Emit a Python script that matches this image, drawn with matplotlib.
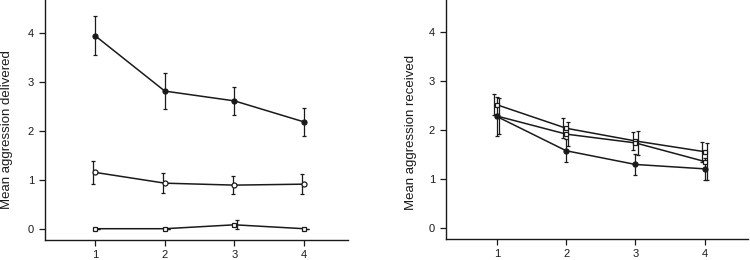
"""Mean aggression delivered / received across sessions."""

import matplotlib
matplotlib.use("Agg")
import matplotlib.pyplot as plt
import numpy as np

plt.rcParams.update({
    "font.family": ["Liberation Sans", "DejaVu Sans"],
    "font.size": 8,
    "axes.spines.top": False,
    "axes.spines.right": False,
})

SESSIONS = [1, 2, 3, 4]
INK = "#1a1a1a"

# left panel: aggression delivered
DELIV_FILLED = [3.94, 2.81, 2.61, 2.18]
DELIV_FILLED_ERR = [0.40, 0.37, 0.29, 0.28]
DELIV_CIRCLE = [1.15, 0.93, 0.89, 0.91]
DELIV_CIRCLE_ERR = [0.24, 0.21, 0.18, 0.21]
DELIV_SQUARE = [0.0, 0.0, 0.08, 0.0]
DELIV_SQUARE_ERR = [0.0, 0.0, 0.09, 0.0]

# right panel: aggression received
RECV_SQUARE = [2.51, 2.03, 1.77, 1.55]
RECV_SQUARE_ERR = [0.21, 0.20, 0.19, 0.20]
RECV_CIRCLE = [2.28, 1.91, 1.73, 1.35]
RECV_CIRCLE_ERR = [0.37, 0.25, 0.25, 0.38]
RECV_FILLED = [2.27, 1.57, 1.29, 1.20]
RECV_FILLED_ERR = [0.40, 0.23, 0.21, 0.22]


def series(ax, y, err, marker, filled, dx):
    x = np.array(SESSIONS, dtype=float)
    ax.errorbar(x + dx, y, yerr=err, fmt="none", ecolor=INK, elinewidth=0.9,
                capsize=1.2, capthick=0.9, zorder=2)
    ax.plot(x, y, color=INK, lw=1.1, marker=marker, ms=3.6 if marker == "o" else 3.3,
            mfc=INK if filled else "white", mec=INK, mew=0.9, zorder=3)


def style(ax, label, label_x, label_y):
    ax.set_xticks(SESSIONS)
    ax.set_yticks([0, 1, 2, 3, 4])
    ax.tick_params(length=4, width=0.9, colors=INK, labelsize=8)
    ax.tick_params(axis="x", pad=3)
    ax.tick_params(axis="y", pad=4)
    for side in ("left", "bottom"):
        ax.spines[side].set_linewidth(1.0)
        ax.spines[side].set_color(INK)
    ax.set_ylabel(label, fontsize=9.5, color=INK)
    ax.yaxis.set_label_coords(label_x, label_y)


fig = plt.figure(figsize=(7.5, 2.6), dpi=100)
ax1 = fig.add_axes([0.060, 0.077, 0.404, 0.923])
ax2 = fig.add_axes([0.595, 0.080, 0.402, 0.920])

series(ax1, DELIV_FILLED, DELIV_FILLED_ERR, "o", True, 0.0)
series(ax1, DELIV_CIRCLE, DELIV_CIRCLE_ERR, "o", False, -0.025)
series(ax1, DELIV_SQUARE, DELIV_SQUARE_ERR, "s", False, 0.04)
ax1.set_xlim(0.28, 4.63)
ax1.set_ylim(-0.23, 4.67)
style(ax1, "Mean aggression delivered", -0.104, 0.46)

series(ax2, RECV_SQUARE, RECV_SQUARE_ERR, "s", False, -0.04)
series(ax2, RECV_CIRCLE, RECV_CIRCLE_ERR, "s", False, 0.03)
series(ax2, RECV_FILLED, RECV_FILLED_ERR, "o", True, 0.0)
ax2.set_xlim(0.27, 4.62)
ax2.set_ylim(-0.237, 4.65)
style(ax2, "Mean aggression received", -0.096, 0.446)

fig.savefig("out.png", dpi=100)
